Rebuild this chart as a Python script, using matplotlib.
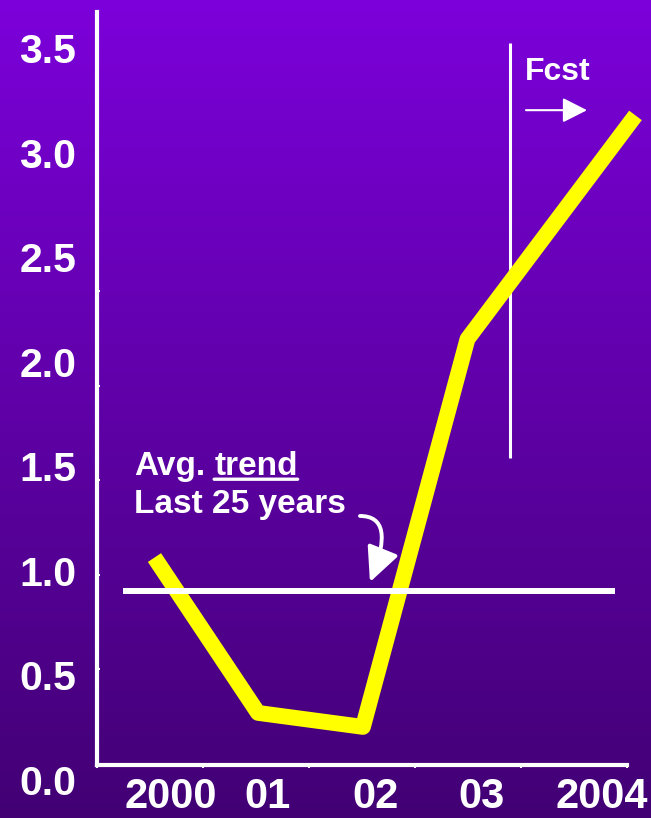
import numpy as np
import matplotlib
matplotlib.use('Agg')
import matplotlib.pyplot as plt
from matplotlib.patches import FancyArrowPatch
from matplotlib.ticker import FixedLocator

plt.rcParams['font.family'] = ['Liberation Sans', 'DejaVu Sans']
plt.rcParams['font.weight'] = 'bold'

# ---- data ----
x_labels = ['2000', '01', '02', '03', '2004']
x_label_pos = [0.693, 1.613, 2.632, 3.623, 4.759]
point_x = [0.542, 1.519, 2.509, 3.495, 5.080]
growth = [1.063, 0.320, 0.253, 2.108, 3.178]
trend_value = 0.903
trend_x = [0.245, 4.887]
y_ticks = [0.0, 0.5, 1.0, 1.5, 2.0, 2.5, 3.0, 3.5]
y_minor = [0.530, 0.980, 1.434, 1.884, 2.338]
x_minor = [0, 1, 2, 3, 4, 5]
forecast_x = 3.896
forecast_span = [1.539, 3.523]
axis_floor = 0.0708

W, H = 651, 818
fig = plt.figure(figsize=(W / 100, H / 100), dpi=100)

# background gradient
bg = fig.add_axes([0, 0, 1, 1], zorder=-10)
top_c = np.array([124, 0, 218]) / 255
bot_c = np.array([66, 0, 116]) / 255
t = np.linspace(0, 1, 256)[:, None]
grad = top_c * (1 - t) + bot_c * t
bg.imshow(grad[:, None, :], aspect='auto', extent=[0, 1, 0, 1])
bg.axis('off')

ymin, ymax = -0.15, 3.6727
y0px, ppu = 779.8, 209.06
bottom_px = y0px - ppu * ymin
top_px = y0px - ppu * ymax
ax = fig.add_axes([97 / W, 1 - bottom_px / H, 530 / W, (bottom_px - top_px) / H])
ax.patch.set_alpha(0)
ax.set_xlim(0, 5)
ax.set_ylim(ymin, ymax)

for s in ['top', 'right']:
    ax.spines[s].set_visible(False)
ax.spines['left'].set_bounds(axis_floor, ymax)
ax.spines['bottom'].set_position(('data', axis_floor))
for s in ['left', 'bottom']:
    ax.spines[s].set_color('white')
    ax.spines[s].set_linewidth(3)
    ax.spines[s].set_capstyle('projecting')

ax.set_yticks(y_ticks, [f'{v:.1f}' for v in y_ticks])
ax.yaxis.set_minor_locator(FixedLocator(y_minor))
ax.tick_params(axis='y', which='major', length=0, pad=15, labelsize=29.5, labelcolor='white')
ax.tick_params(axis='y', which='minor', direction='in', length=2.5, width=1.5, color='white')

ax.set_xticks(x_label_pos, x_labels)
ax.xaxis.set_minor_locator(FixedLocator(x_minor))
ax.tick_params(axis='x', which='major', length=0, pad=9, labelsize=30, labelcolor='white')
ax.tick_params(axis='x', which='minor', direction='out', length=2, width=1.5, color='white')

# growth line
ax.plot(point_x, growth, color='#FFFF00', lw=11.4, solid_joinstyle='round',
        solid_capstyle='butt', clip_on=False, zorder=3)

# trend line
ax.plot(trend_x, [trend_value] * 2, color='white', lw=4.3, solid_capstyle='butt', zorder=4)

# forecast divider
ax.plot([forecast_x] * 2, forecast_span, color='white', lw=2.2, solid_capstyle='butt')
ax.text(4.033, 3.347, 'Fcst', fontsize=23, color='white', va='baseline', ha='left')
ax.annotate('', xy=(4.623, 3.203), xytext=(4.047, 3.203),
            arrowprops=dict(arrowstyle='-|>,head_length=0.75,head_width=0.38',
                            mutation_scale=20, lw=1.5, color='white',
                            shrinkA=0, shrinkB=0))

# trend annotation text
t1 = ax.text(0.349, 1.458, 'Avg.', fontsize=24, color='white', va='baseline', ha='left')
t2 = ax.annotate('trend', xy=(1, 0), xycoords=t1, xytext=(6.5, 0),
                 textcoords='offset points', fontsize=24, color='white',
                 va='bottom', ha='left')
ax.annotate('', xy=(1, 0.09), xycoords=t2, xytext=(0, 0.09), textcoords=t2,
            arrowprops=dict(arrowstyle='-', color='white', lw=2.4, shrinkA=0, shrinkB=0))
ax.text(0.349, 1.276, 'Last 25 years', fontsize=24, color='white', va='baseline', ha='left')

curved = FancyArrowPatch(posA=(2.481, 1.262), posB=(2.575, 0.946),
                         connectionstyle='angle3,angleA=0,angleB=68',
                         arrowstyle='-|>,head_length=2.1,head_width=1.0',
                         mutation_scale=10, lw=2.8, color='white',
                         shrinkA=0, shrinkB=0, zorder=5)
ax.add_patch(curved)

fig.savefig('out.png', dpi=100)
